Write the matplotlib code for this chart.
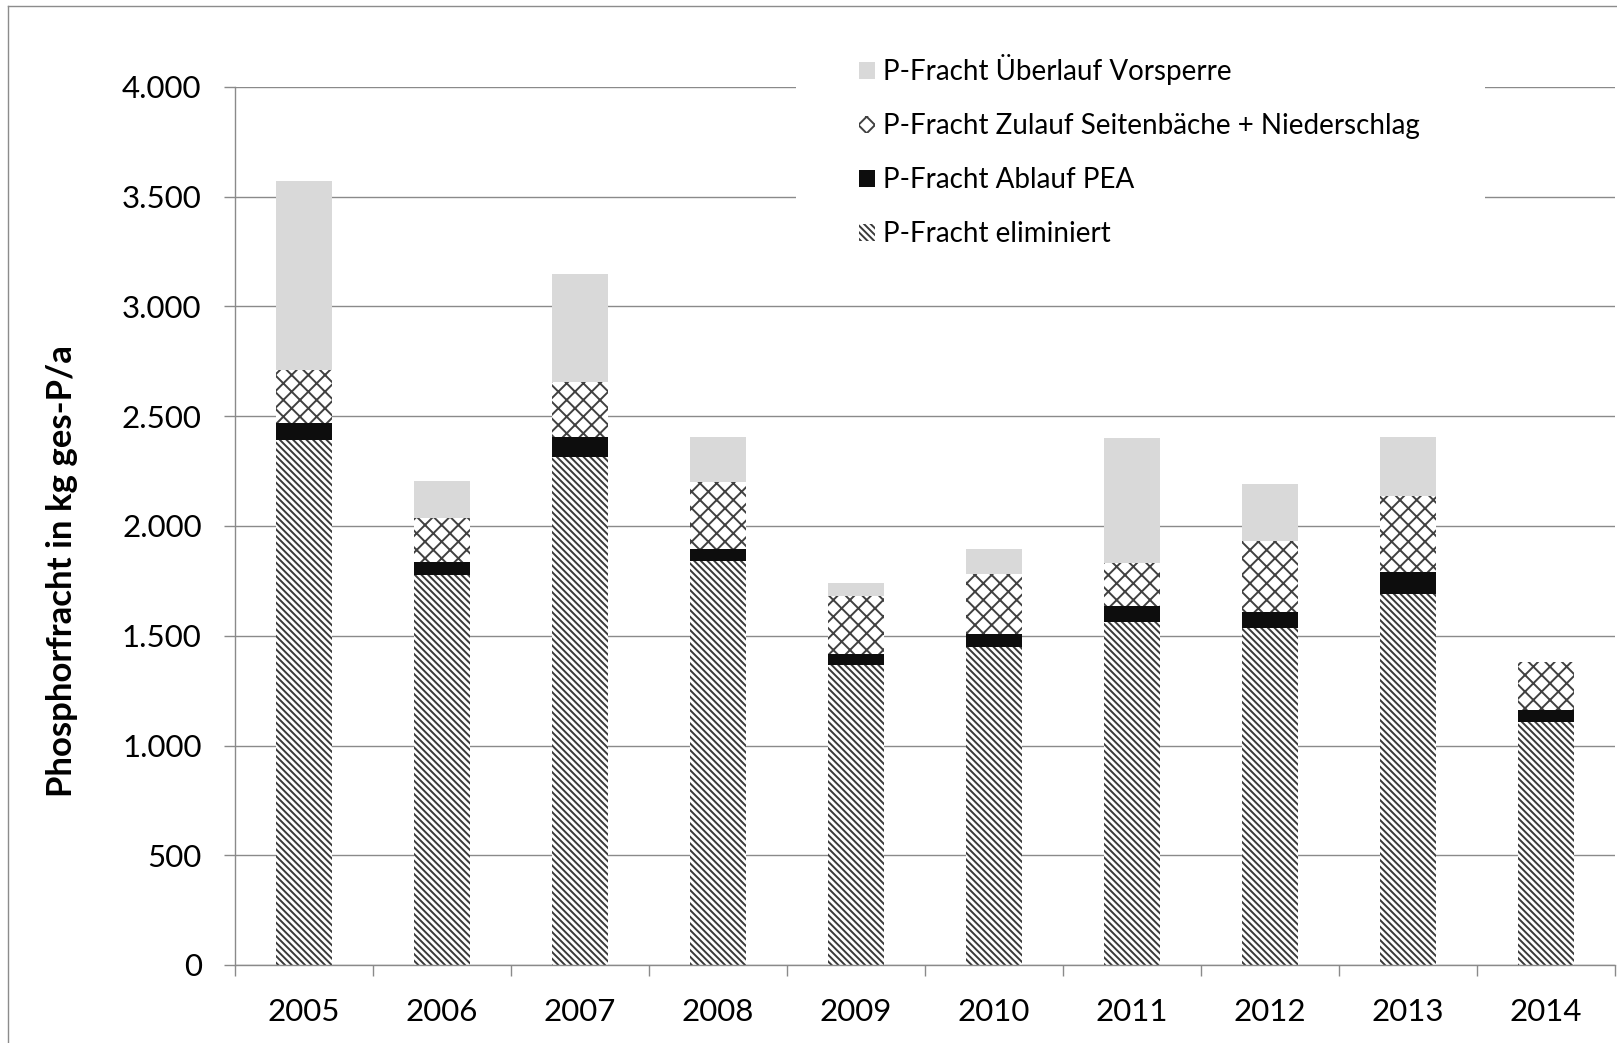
import matplotlib
matplotlib.use("Agg")
import matplotlib.pyplot as plt
from matplotlib.patches import Patch, Rectangle
from matplotlib.lines import Line2D
from matplotlib.ticker import FixedLocator, FixedFormatter
import numpy as np

# ---- data ----
years = ["2005", "2006", "2007", "2008", "2009", "2010", "2011", "2012", "2013", "2014"]
eliminiert = [2392, 1777, 2316, 1842, 1368, 1447, 1561, 1534, 1690, 1108]
ablauf_pea = [76, 60, 91, 52, 49, 60, 75, 73, 99, 54]
zulauf = [243, 201, 251, 308, 264, 274, 194, 325, 348, 217]
ueberlauf = [861, 168, 490, 203, 59, 113, 571, 258, 270, 0]

ytick_values = [0, 500, 1000, 1500, 2000, 2500, 3000, 3500, 4000]
ytick_labels = ["0", "500", "1.000", "1.500", "2.000", "2.500", "3.000", "3.500", "4.000"]

labels = ["P-Fracht Überlauf Vorsperre",
          "P-Fracht Zulauf Seitenbäche + Niederschlag",
          "P-Fracht Ablauf PEA",
          "P-Fracht eliminiert"]
ylabel = "Phosphorfracht in kg ges-P/a"

# ---- style ----
plt.rcParams['font.family'] = ['Lato', 'DejaVu Sans']
plt.rcParams['hatch.linewidth'] = 1.4

W, H, DPI = 1617, 1043, 100
fig = plt.figure(figsize=(W / DPI, H / DPI), dpi=DPI)
fig.patch.set_facecolor("white")

ax = fig.add_axes([235 / W, 1 - 965 / H, 1380 / W, (965 - 87) / H])

grid_c = "#8a8a8a"
x = np.arange(len(years))
bw = 0.40

c_elim_hatch = "#3a3a3a"
c_cross_hatch = "#404040"
c_black = "#0d0d0d"
c_light = "#d9d9d9"
h_elim = "\\" * 5
h_cross = "xx"

b0 = np.zeros(len(years))
ax.bar(x, eliminiert, bw, bottom=b0, facecolor="white", edgecolor=c_elim_hatch,
       hatch=h_elim, linewidth=0, zorder=2)
b1 = b0 + np.array(eliminiert)
ax.bar(x, ablauf_pea, bw, bottom=b1, facecolor=c_black, linewidth=0, zorder=2)
b2 = b1 + np.array(ablauf_pea)
ax.bar(x, zulauf, bw, bottom=b2, facecolor="white", edgecolor=c_cross_hatch,
       hatch=h_cross, linewidth=0, zorder=2)
b3 = b2 + np.array(zulauf)
ax.bar(x, ueberlauf, bw, bottom=b3, facecolor=c_light, linewidth=0, zorder=2)

ax.set_xlim(-0.5, len(years) - 0.5)
ax.set_ylim(0, 4000)

ax.yaxis.set_major_locator(FixedLocator(ytick_values))
ax.yaxis.set_major_formatter(FixedFormatter(ytick_labels))
ax.set_xticks(x)
ax.set_xticklabels(years)
ax.set_xticks(np.arange(-0.5, len(years), 1.0), minor=True)

ax.tick_params(axis="x", which="major", length=0, pad=24, labelsize=22.5, labelcolor="black")
ax.tick_params(axis="x", which="minor", length=8, width=1.0, color=grid_c, direction="out")
ax.tick_params(axis="y", which="major", length=8, width=1.0, color=grid_c, direction="out",
               pad=16, labelsize=22.5, labelcolor="black")

for s in ["top", "right"]:
    ax.spines[s].set_visible(False)
for s in ["left", "bottom"]:
    ax.spines[s].set_color(grid_c)
    ax.spines[s].set_linewidth(1.0)

ax.yaxis.grid(True, color=grid_c, linewidth=1.0, zorder=0)
ax.set_axisbelow(True)

ax.set_ylabel(ylabel, fontsize=25, fontweight="bold", labelpad=0)
ax.yaxis.set_label_coords((78 - 235) / 1380, 1 - (571 - 87) / 878)

# legend background (white box covering gridlines)
fig.add_artist(Rectangle((796 / W, 1 - 258 / H), (1485 - 796) / W, (258 - 38) / H,
                         transform=fig.transFigure, facecolor="white", edgecolor="none",
                         zorder=3))

handles = [
    Patch(facecolor=c_light, linewidth=0),
    Patch(facecolor="white", edgecolor=c_cross_hatch, hatch=h_cross, linewidth=0),
    Patch(facecolor=c_black, linewidth=0),
    Patch(facecolor="white", edgecolor=c_elim_hatch, hatch=h_elim, linewidth=0),
]
leg = fig.legend(handles, labels, loc="upper left", bbox_to_anchor=(859 / W, 1 - 54 / H),
                 bbox_transform=fig.transFigure, frameon=False, fontsize=20,
                 handlelength=0.56, handleheight=0.56, handletextpad=0.3,
                 labelspacing=1.01, borderpad=0, borderaxespad=0)
leg.set_zorder(4)

# outer chart border
border_c = "#8c8c8c"
fig.add_artist(Line2D([8 / W, 8 / W], [0, 1 - 6 / H], transform=fig.transFigure,
                      color=border_c, linewidth=1.0))
fig.add_artist(Line2D([8 / W, 1], [1 - 6 / H, 1 - 6 / H], transform=fig.transFigure,
                      color=border_c, linewidth=1.0))

fig.savefig("out.png", dpi=DPI, facecolor="white")
